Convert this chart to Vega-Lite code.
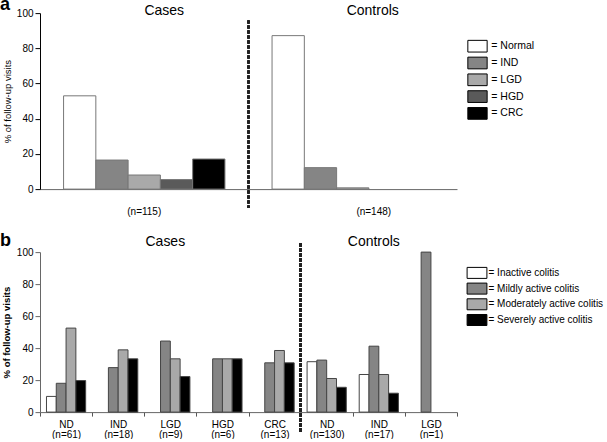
{
  "$schema": "https://vega.github.io/schema/vega-lite/v6.json",
  "padding": {"left": 0, "top": -4.9, "right": 0, "bottom": 0},
  "autosize": {"type": "pad"},
  "background": "white",
  "spacing": 63,
  "bounds": "flush",
  "config": {
    "font": "Liberation Sans",
    "view": {"stroke": null},
    "axis": {"grid": false, "labelFontSize": 10, "labelColor": "#000", "domainColor": "#555", "tickColor": "#555", "titleColor": "#000", "labelFont": "Liberation Sans", "titleFont": "Liberation Sans", "labelOverlap": false},
    "legend": {"labelFont": "Liberation Sans", "labelColor": "#000"}
  },
  "resolve": {"scale": {"x": "independent", "y": "independent", "xOffset": "independent", "fill": "independent"}, "legend": {"fill": "independent"}},
  "vconcat": [
    {
      "width": 417,
      "height": 176,
      "title": {"text": "a", "anchor": "start", "frame": "group", "fontSize": 18, "fontWeight": "bold", "dx": -40, "offset": -23.6, "baseline": "alphabetic"},
      "data": {"values": [
        {"group": "(n=115)", "category": "Normal", "percent": 53.0},
        {"group": "(n=115)", "category": "IND", "percent": 16.5},
        {"group": "(n=115)", "category": "LGD", "percent": 8.0},
        {"group": "(n=115)", "category": "HGD", "percent": 5.4},
        {"group": "(n=115)", "category": "CRC", "percent": 17.1},
        {"group": "(n=148)", "category": "Normal", "percent": 87.2},
        {"group": "(n=148)", "category": "IND", "percent": 12.2},
        {"group": "(n=148)", "category": "LGD", "percent": 0.7}
      ]},
      "layer": [
        {
          "mark": {"type": "bar", "stroke": "#777", "strokeWidth": 1},
          "encoding": {
            "x": {"field": "group", "type": "nominal", "scale": {"domain": ["(n=115)", "(n=148)"], "paddingInner": 0, "paddingOuter": 0},
              "axis": {"title": null, "labelAngle": 0, "ticks": false, "labelPadding": 17, "labelBaseline": "top", "domainColor": "#666",
                "labelOffset": {"condition": {"test": "datum.value === '(n=148)'", "value": 21}, "value": 0}}},
            "xOffset": {"field": "category", "type": "nominal", "scale": {"domain": ["Normal", "IND", "LGD", "HGD", "CRC"], "paddingInner": 0, "paddingOuter": 0.73}},
            "y": {"field": "percent", "type": "quantitative", "scale": {"domain": [0, 100], "nice": false},
              "axis": {"title": "% of follow-up visits", "titleFontSize": 9.5, "titleFontWeight": "normal", "titlePadding": 4, "values": [0, 20, 40, 60, 80, 100], "tickCount": 6, "labelOverlap": false, "labelFlush": false, "labelBound": false, "tickSize": 5, "labelPadding": 2, "domainColor": "#000", "tickColor": "#000"}},
            "fill": {"field": "category", "type": "nominal",
              "scale": {"domain": ["Normal", "IND", "LGD", "HGD", "CRC"], "range": ["#ffffff", "#858585", "#a9a9a9", "#5a5a5a", "#000000"]},
              "legend": {"title": null, "orient": "none", "legendX": 431, "legendY": 26.6, "padding": 0,
                "symbolType": "M-1.65,-1H1.65V1H-1.65Z", "symbolSize": 137, "symbolStrokeColor": "#000", "symbolStrokeWidth": 1,
                "labelExpr": "'= ' + datum.label", "labelFontSize": 10.5, "labelOffset": 7.3, "rowPadding": -0.2}}
          }
        },
        {
          "data": {"values": [{"group": "(n=115)", "label": "Cases"}, {"group": "(n=148)", "label": "Controls"}]},
          "mark": {"type": "text", "fontSize": 14, "baseline": "middle", "dx": 20, "color": "#000"},
          "encoding": {
            "x": {"field": "group", "type": "nominal"},
            "y": {"datum": 101, "type": "quantitative"},
            "text": {"field": "label"}
          }
        },
        {
          "mark": {"type": "rule", "strokeDash": [3, 2], "strokeWidth": 2, "color": "#222"},
          "encoding": {
            "x": {"datum": "(n=148)", "bandPosition": 0},
            "y": {"datum": 95.8, "type": "quantitative"},
            "y2": {"datum": -10.6}
          }
        }
      ]
    },
    {
      "width": 417,
      "height": 160,
      "title": {"text": "b", "anchor": "start", "frame": "group", "fontSize": 18, "fontWeight": "bold", "dx": -40, "offset": -28.8, "baseline": "alphabetic"},
      "data": {"values": [
        {"group": "ND|(n=61)", "activity": "Inactive colitis", "percent": 9.8},
        {"group": "ND|(n=61)", "activity": "Mildly active colitis", "percent": 18.0},
        {"group": "ND|(n=61)", "activity": "Moderately active colitis", "percent": 52.5},
        {"group": "ND|(n=61)", "activity": "Severely active colitis", "percent": 19.7},
        {"group": "IND|(n=18)", "activity": "Mildly active colitis", "percent": 27.8},
        {"group": "IND|(n=18)", "activity": "Moderately active colitis", "percent": 38.9},
        {"group": "IND|(n=18)", "activity": "Severely active colitis", "percent": 33.3},
        {"group": "LGD|(n=9)", "activity": "Mildly active colitis", "percent": 44.4},
        {"group": "LGD|(n=9)", "activity": "Moderately active colitis", "percent": 33.3},
        {"group": "LGD|(n=9)", "activity": "Severely active colitis", "percent": 22.2},
        {"group": "HGD|(n=6)", "activity": "Mildly active colitis", "percent": 33.3},
        {"group": "HGD|(n=6)", "activity": "Moderately active colitis", "percent": 33.3},
        {"group": "HGD|(n=6)", "activity": "Severely active colitis", "percent": 33.3},
        {"group": "CRC|(n=13)", "activity": "Mildly active colitis", "percent": 30.8},
        {"group": "CRC|(n=13)", "activity": "Moderately active colitis", "percent": 38.5},
        {"group": "CRC|(n=13)", "activity": "Severely active colitis", "percent": 30.8},
        {"group": "ND|(n=130)", "activity": "Inactive colitis", "percent": 31.5},
        {"group": "ND|(n=130)", "activity": "Mildly active colitis", "percent": 32.5},
        {"group": "ND|(n=130)", "activity": "Moderately active colitis", "percent": 21.0},
        {"group": "ND|(n=130)", "activity": "Severely active colitis", "percent": 15.5},
        {"group": "IND|(n=17)", "activity": "Inactive colitis", "percent": 23.5},
        {"group": "IND|(n=17)", "activity": "Mildly active colitis", "percent": 41.2},
        {"group": "IND|(n=17)", "activity": "Moderately active colitis", "percent": 23.5},
        {"group": "IND|(n=17)", "activity": "Severely active colitis", "percent": 11.8},
        {"group": "LGD|(n=1)", "activity": "Mildly active colitis", "percent": 100}
      ]},
      "layer": [
        {
          "mark": {"type": "bar", "stroke": "#444", "strokeWidth": 1},
          "encoding": {
            "x": {"field": "group", "type": "nominal",
              "scale": {"domain": ["ND|(n=61)", "IND|(n=18)", "LGD|(n=9)", "HGD|(n=6)", "CRC|(n=13)", "ND|(n=130)", "IND|(n=17)", "LGD|(n=1)"], "paddingInner": 0, "paddingOuter": 0},
              "axis": {"title": null, "labelAngle": 0, "tickBand": "extent", "tickSize": 4, "labelPadding": 3, "labelBaseline": "top", "labelLineHeight": 10, "labelExpr": "split(datum.label, '|')", "domainColor": "#666"}},
            "xOffset": {"field": "activity", "type": "nominal",
              "scale": {"domain": ["Inactive colitis", "Mildly active colitis", "Moderately active colitis", "Severely active colitis"], "paddingInner": 0, "paddingOuter": 0.66}},
            "y": {"field": "percent", "type": "quantitative", "scale": {"domain": [0, 100], "nice": false},
              "axis": {"title": "% of follow-up visits", "titleFontSize": 9.5, "titleFontWeight": "bold", "titlePadding": 5, "values": [0, 20, 40, 60, 80, 100], "tickCount": 6, "labelOverlap": false, "labelFlush": false, "labelBound": false, "tickSize": 5, "labelPadding": 2, "domainColor": "#666", "tickColor": "#666"}},
            "fill": {"field": "activity", "type": "nominal",
              "scale": {"domain": ["Inactive colitis", "Mildly active colitis", "Moderately active colitis", "Severely active colitis"], "range": ["#ffffff", "#858585", "#a9a9a9", "#000000"]},
              "legend": {"title": null, "orient": "none", "legendX": 431, "legendY": 14.8, "padding": 0,
                "symbolType": "M-1.8,-1H1.8V1H-1.8Z", "symbolSize": 121, "symbolStrokeColor": "#000", "symbolStrokeWidth": 1,
                "labelExpr": "'= ' + datum.label", "labelFontSize": 10, "labelOffset": 5.5, "rowPadding": -0.3, "labelLimit": 300}}
          }
        },
        {
          "data": {"values": [{"group": "LGD|(n=9)", "label": "Cases"}, {"group": "IND|(n=17)", "label": "Controls"}]},
          "mark": {"type": "text", "fontSize": 14, "baseline": "middle", "dx": -5, "color": "#000"},
          "encoding": {
            "x": {"field": "group", "type": "nominal"},
            "y": {"datum": 106, "type": "quantitative"},
            "text": {"field": "label"}
          }
        },
        {
          "mark": {"type": "rule", "strokeDash": [3, 2], "strokeWidth": 2, "color": "#222"},
          "encoding": {
            "x": {"datum": "ND|(n=130)", "bandPosition": 0},
            "y": {"datum": 105.4, "type": "quantitative"},
            "y2": {"datum": -13.3}
          }
        }
      ]
    }
  ]
}
